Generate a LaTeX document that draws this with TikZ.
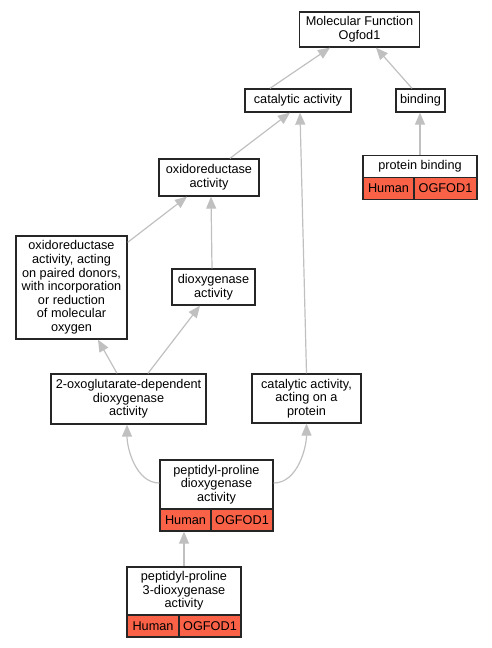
\documentclass[tikz,border=0pt]{standalone}
\usepackage{fontspec}
\setmainfont{Liberation Sans}
\usetikzlibrary{arrows.meta,calc}
\definecolor{edgegray}{RGB}{192,192,192}
\definecolor{genered}{RGB}{250,98,72}
\begin{document}
\begin{tikzpicture}[x=1pt,y=-1pt,
  box/.style={draw=black!85,line width=1.3pt,fill=white,align=center,inner sep=0pt,
    font=\fontsize{12.7}{13.6}\selectfont},
  cell/.style={draw=black!85,line width=1.3pt,fill=genered,inner sep=0pt,
    font=\fontsize{12.7}{13.6}\selectfont},
  edge/.style={draw=edgegray,line width=1.2pt,-{Triangle[width=10pt,length=12pt]}}]
\useasboundingbox (0,0) rectangle (492,648);
% nodes
\node[box,minimum width=120,minimum height=35] (mf) at (359.5,29.5) {Molecular Function\\Ogfod1};
\node[box,minimum width=106,minimum height=23] (cat) at (298,100.5) {catalytic activity};
\node[box,minimum width=49,minimum height=23] (bind) at (420.5,100.5) {binding};
% protein binding table
\node[box,minimum width=114,minimum height=22] (pb) at (420,166.5) {protein binding};
\node[cell,minimum width=51,minimum height=22] (pbh) at (388.5,188.5) {Human};
\node[cell,minimum width=63,minimum height=22] (pbg) at (445.5,188.5) {OGFOD1};
\node[box,minimum width=100,minimum height=37] (oxr) at (209,177.5) {oxidoreductase\\activity};
\node[box,minimum width=111,minimum height=103] (pair) at (71.5,287.5) {oxidoreductase\\activity, acting\\on paired donors,\\with incorporation\\or reduction\\of molecular\\oxygen};
\node[box,minimum width=83,minimum height=36] (diox) at (213.5,287) {dioxygenase\\activity};
\node[box,minimum width=155,minimum height=50] (oxo) at (128.5,399) {2-oxoglutarate-dependent\\dioxygenase\\activity};
\node[box,minimum width=109,minimum height=49] (capr) at (306.5,398.5) {catalytic activity,\\acting on a\\protein};
% peptidyl-proline dioxygenase table
\node[box,minimum width=113,minimum height=49] (ppd) at (216.5,484.5) {peptidyl-proline\\dioxygenase\\activity};
\node[cell,minimum width=51,minimum height=22] (ppdh) at (185.5,520) {Human};
\node[cell,minimum width=62,minimum height=22] (ppdg) at (242,520) {OGFOD1};
% peptidyl-proline 3-dioxygenase table
\node[box,minimum width=114,minimum height=48] (p3d) at (184,591) {peptidyl-proline\\3-dioxygenase\\activity};
\node[cell,minimum width=52,minimum height=22] (p3dh) at (153,626) {Human};
\node[cell,minimum width=62,minimum height=22] (p3dg) at (210,626) {OGFOD1};
% edges
\draw[edge] ($(cat.north)+(-28,0)$) -- ($(mf.south)+(-29.5,0)$);
\draw[edge] ($(bind.north)+(-8.5,0)$) -- ($(mf.south)+(16.5,0)$);
\draw[edge] (pb.north) -- (pb.north |- bind.south);
\draw[edge] ($(oxr.north)+(21,0)$) -- ($(cat.south)+(-8,0)$);
\draw[edge] ($(pair.north east)+(0,7)$) -- ($(oxr.south)+(-22,0)$);
\draw[edge] ($(diox.north)+(-1.5,0)$) -- ($(oxr.south)+(2,0)$);
\draw[edge] ($(oxo.north)+(-11.5,0)$) -- ($(pair.south)+(26.5,0)$);
\draw[edge] ($(oxo.north)+(19.5,0)$) -- ($(diox.south)+(-13.5,0)$);
\draw[edge] (capr.north) -- ($(cat.south)+(2,0)$);
\draw[edge] ($(ppd.west)+(0,-1.5)$) to[out=180,in=-90,looseness=0.9] ($(oxo.south)+(-1.5,0)$);
\draw[edge] ($(ppd.east)+(0,-1.5)$) to[out=0,in=-90,looseness=0.9] (capr.south);
\draw[edge] (p3d.north) -- (p3d.north |- ppdh.south);
\end{tikzpicture}
\end{document}
